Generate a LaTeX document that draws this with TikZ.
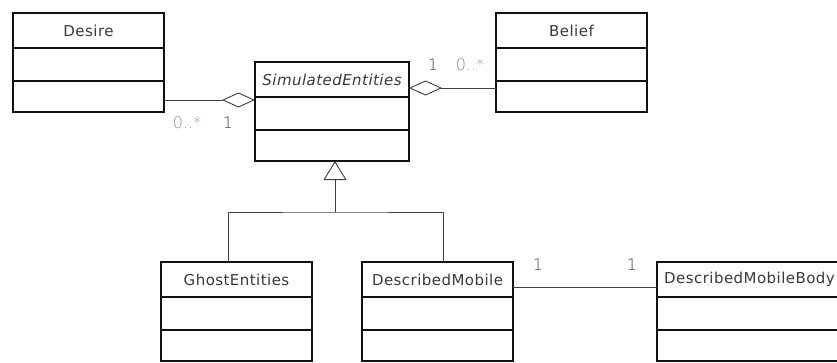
\documentclass[tikz,border=0pt]{standalone}
\usepackage{fontspec}
\setmainfont{DejaVu Sans}[LetterSpace=3]
\newfontfamily\multfont{DejaVu Sans ExtraLight}
\usetikzlibrary{arrows.meta,calc,shadows}
\definecolor{ink}{HTML}{3A3A3A}
\definecolor{edge}{HTML}{111111}
\definecolor{multlight}{HTML}{8A8A8A}
\definecolor{multdark}{HTML}{444444}

% One UML class: name, x, y (top-left corner), width, title text
\newcommand\umlclass[5]{%
  \node[classbox, minimum width=#4] (#1) at (#2,#3) {};
  \draw[divider] ([yshift=-35]#1.north west) -- ([yshift=-35]#1.north east);
  \draw[divider] ([yshift=-68]#1.north west) -- ([yshift=-68]#1.north east);
  \node[titletext] (#1-title) at ([yshift=-17.5]#1.north) {#5};
}

\begin{document}
\begin{tikzpicture}[x=1pt,y=-1pt,
  classbox/.style={draw=edge, line width=1.3pt, fill=white, anchor=north west,
    minimum height=99pt, inner sep=0pt, outer sep=0pt,
    drop shadow={shadow xshift=1.2pt, shadow yshift=-1.2pt, opacity=0.25}},
  divider/.style={draw=edge, line width=1.2pt},
  titletext/.style={text=ink, font=\fontsize{15}{18}\selectfont, inner sep=0pt},
  link/.style={draw=black!75, line width=0.9pt},
  aggr/.style={link, {Diamond[open, length=33pt, width=15pt, line width=0.9pt]}-},
  gen/.style={link, -{Triangle[open, length=19pt, width=23pt, line width=0.9pt]}},
  multa/.style={text=multlight, font=\multfont\fontsize{16}{19}\selectfont, inner sep=0pt},
  multb/.style={text=multdark, font=\multfont\fontsize{16}{19}\selectfont, inner sep=0pt}]

\fill[white] (0,0) rectangle (837,362);
\useasboundingbox (0,0) rectangle (837,362);
\clip (0,0) rectangle (837,362);

% classes
\umlclass{desire}{13}{13}{151}{Desire}
\umlclass{sim}{255}{62}{154}{\itshape SimulatedEntities}
\umlclass{belief}{496}{13}{151}{Belief}
\umlclass{ghost}{161}{262}{151}{GhostEntities}
\umlclass{dm}{362}{262}{151}{DescribedMobile}

% the last class runs past the right edge
\node[classbox, minimum width=200pt] (dmb) at (657,262) {};
\draw[divider] ([yshift=-35]dmb.north west) -- ([yshift=-35]dmb.north east);
\draw[divider] ([yshift=-68]dmb.north west) -- ([yshift=-68]dmb.north east);
\node[titletext, anchor=west] (dmb-title) at ([xshift=7pt,yshift=-17.5]dmb.north west) {DescribedMobileBody};

% aggregations
\draw[aggr] ([yshift=12]desire.south east -| sim.west) -- ([yshift=12]desire.south east);
\draw[aggr] ([yshift=-26]sim.north east) -- ([yshift=-26]sim.north east -| belief.west);

% generalization tree
\coordinate (split) at (335,212);
\draw[link] ([xshift=-8.5]ghost.north) |- (split) -| ([xshift=5.5]dm.north);
\draw[gen] (split) -- ([xshift=3]sim.south);

% association
\draw[link] ([yshift=-25]dm.north east) -- ([yshift=-25]dm.north east -| dmb.west);

% multiplicities
\node[multa] (m1) at (187,123) {0..*};
\node[multb] (m2) at (228,123) {1};
\node[multb] (m3) at (433,65) {1};
\node[multa] (m4) at (470,65) {0..*};
\node[multb] (m5) at (538,264.5) {1};
\node[multb] (m6) at (632,264.5) {1};
\end{tikzpicture}
\end{document}
